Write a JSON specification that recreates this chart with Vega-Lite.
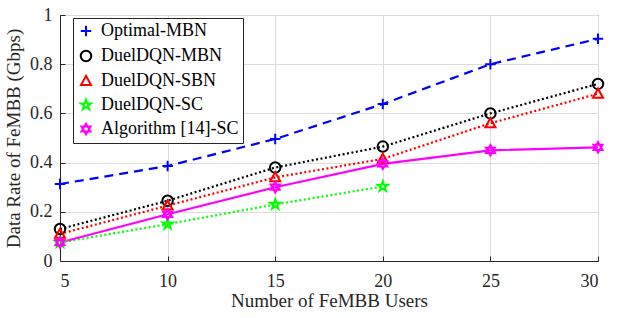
{
  "$schema": "https://vega.github.io/schema/vega-lite/v6.json",
  "width": 538,
  "height": 246,
  "autosize": {"type": "none"},
  "padding": {"left": 60, "top": 15, "right": 23, "bottom": 57},
  "background": "white",
  "config": {
    "font": "serif",
    "view": {"stroke": "#262626", "strokeWidth": 1},
    "axis": {
      "labelFont": "serif",
      "titleFont": "serif",
      "labelFontSize": 18,
      "titleFontSize": 19,
      "titleFontWeight": "normal",
      "labelColor": "#262626",
      "titleColor": "#262626",
      "domainColor": "#262626",
      "tickColor": "#262626",
      "tickSize": -5,
      "gridColor": "#dcdcdc",
      "gridWidth": 1
    },
    "legend": {
      "labelFont": "serif",
      "labelFontSize": 18,
      "labelColor": "#000"
    }
  },
  "data": {
    "values": [
      {"users": 5, "rate": 0.313, "series": "Optimal-MBN"},
      {"users": 10, "rate": 0.386, "series": "Optimal-MBN"},
      {"users": 15, "rate": 0.496, "series": "Optimal-MBN"},
      {"users": 20, "rate": 0.638, "series": "Optimal-MBN"},
      {"users": 25, "rate": 0.800, "series": "Optimal-MBN"},
      {"users": 30, "rate": 0.903, "series": "Optimal-MBN"},
      {"users": 5, "rate": 0.130, "series": "DuelDQN-MBN"},
      {"users": 10, "rate": 0.245, "series": "DuelDQN-MBN"},
      {"users": 15, "rate": 0.380, "series": "DuelDQN-MBN"},
      {"users": 20, "rate": 0.465, "series": "DuelDQN-MBN"},
      {"users": 25, "rate": 0.600, "series": "DuelDQN-MBN"},
      {"users": 30, "rate": 0.720, "series": "DuelDQN-MBN"},
      {"users": 5, "rate": 0.110, "series": "DuelDQN-SBN"},
      {"users": 10, "rate": 0.225, "series": "DuelDQN-SBN"},
      {"users": 15, "rate": 0.340, "series": "DuelDQN-SBN"},
      {"users": 20, "rate": 0.415, "series": "DuelDQN-SBN"},
      {"users": 25, "rate": 0.560, "series": "DuelDQN-SBN"},
      {"users": 30, "rate": 0.680, "series": "DuelDQN-SBN"},
      {"users": 5, "rate": 0.075, "series": "DuelDQN-SC"},
      {"users": 10, "rate": 0.150, "series": "DuelDQN-SC"},
      {"users": 15, "rate": 0.230, "series": "DuelDQN-SC"},
      {"users": 20, "rate": 0.303, "series": "DuelDQN-SC"},
      {"users": 5, "rate": 0.075, "series": "Algorithm [14]-SC"},
      {"users": 10, "rate": 0.190, "series": "Algorithm [14]-SC"},
      {"users": 15, "rate": 0.300, "series": "Algorithm [14]-SC"},
      {"users": 20, "rate": 0.395, "series": "Algorithm [14]-SC"},
      {"users": 25, "rate": 0.450, "series": "Algorithm [14]-SC"},
      {"users": 30, "rate": 0.462, "series": "Algorithm [14]-SC"}
    ]
  },
  "encoding": {
    "x": {
      "field": "users", "type": "quantitative",
      "scale": {"domain": [5, 30], "nice": false},
      "axis": {"values": [5, 10, 15, 20, 25, 30], "title": "Number of FeMBB Users", "titlePadding": 1, "labelPadding": 16, "format": "d"}
    },
    "y": {
      "field": "rate", "type": "quantitative",
      "scale": {"domain": [0, 1], "nice": false},
      "axis": {"values": [0, 0.2, 0.4, 0.6, 0.8, 1], "title": "Data Rate of FeMBB (Gbps)", "titlePadding": 6, "labelPadding": 13, "format": "~g"}
    },
    "color": {
      "field": "series", "type": "nominal",
      "scale": {
        "domain": ["Optimal-MBN", "DuelDQN-MBN", "DuelDQN-SBN", "DuelDQN-SC", "Algorithm [14]-SC"],
        "range": ["#0000ff", "#000000", "#ff0000", "#00ff00", "#ff00ff"]
      },
      "legend": {
        "title": null,
        "orient": "none",
        "legendX": 13,
        "legendY": 3,
        "fillColor": "white",
        "strokeColor": "#262626",
        "padding": 4,
        "rowPadding": 5,
        "symbolSize": 110,
        "symbolStrokeWidth": 2,
        "labelOffset": 6,
        "labelFont": "serif",
        "labelFontSize": 18
      }
    }
  },
  "layer": [
    {
      "transform": [{"filter": {"field": "series", "equal": "Optimal-MBN"}}],
      "mark": {"type": "line", "strokeWidth": 2.2, "strokeDash": [9, 6]}
    },
    {
      "transform": [{"filter": {"field": "series", "equal": "DuelDQN-MBN"}}],
      "mark": {"type": "line", "strokeWidth": 2.2, "strokeDash": [2, 2.5]}
    },
    {
      "transform": [{"filter": {"field": "series", "equal": "DuelDQN-SBN"}}],
      "mark": {"type": "line", "strokeWidth": 2.2, "strokeDash": [2, 2.5]}
    },
    {
      "transform": [{"filter": {"field": "series", "equal": "DuelDQN-SC"}}],
      "mark": {"type": "line", "strokeWidth": 2.2, "strokeDash": [2, 2.5]}
    },
    {
      "transform": [{"filter": {"field": "series", "equal": "Algorithm [14]-SC"}}],
      "mark": {"type": "line", "strokeWidth": 2.2}
    },
    {
      "mark": {"type": "point", "filled": false, "strokeWidth": 2, "size": 110, "opacity": 1},
      "encoding": {
        "shape": {
          "field": "series", "type": "nominal",
          "scale": {
            "domain": ["Optimal-MBN", "DuelDQN-MBN", "DuelDQN-SBN", "DuelDQN-SC", "Algorithm [14]-SC"],
            "range": [
              "M-1,0H1M0,-1V1",
              "circle",
              "M0,-1L0.95,0.75L-0.95,0.75Z",
              "M0,-1L0.2245,-0.309L0.951,-0.309L0.363,0.118L0.588,0.809L0,0.382L-0.588,0.809L-0.363,0.118L-0.951,-0.309L-0.2245,-0.309Z",
              "M0,-1L0.866,0.5L-0.866,0.5ZM0,1L0.866,-0.5L-0.866,-0.5Z"
            ]
          },
          "legend": {
            "title": null,
            "orient": "none",
            "legendX": 13,
            "legendY": 3,
            "fillColor": "white",
            "strokeColor": "#262626",
            "padding": 4,
            "rowPadding": 5,
            "symbolSize": 110,
            "symbolStrokeWidth": 2,
            "labelOffset": 6,
            "labelFont": "serif",
            "labelFontSize": 18
          }
        }
      }
    }
  ]
}
